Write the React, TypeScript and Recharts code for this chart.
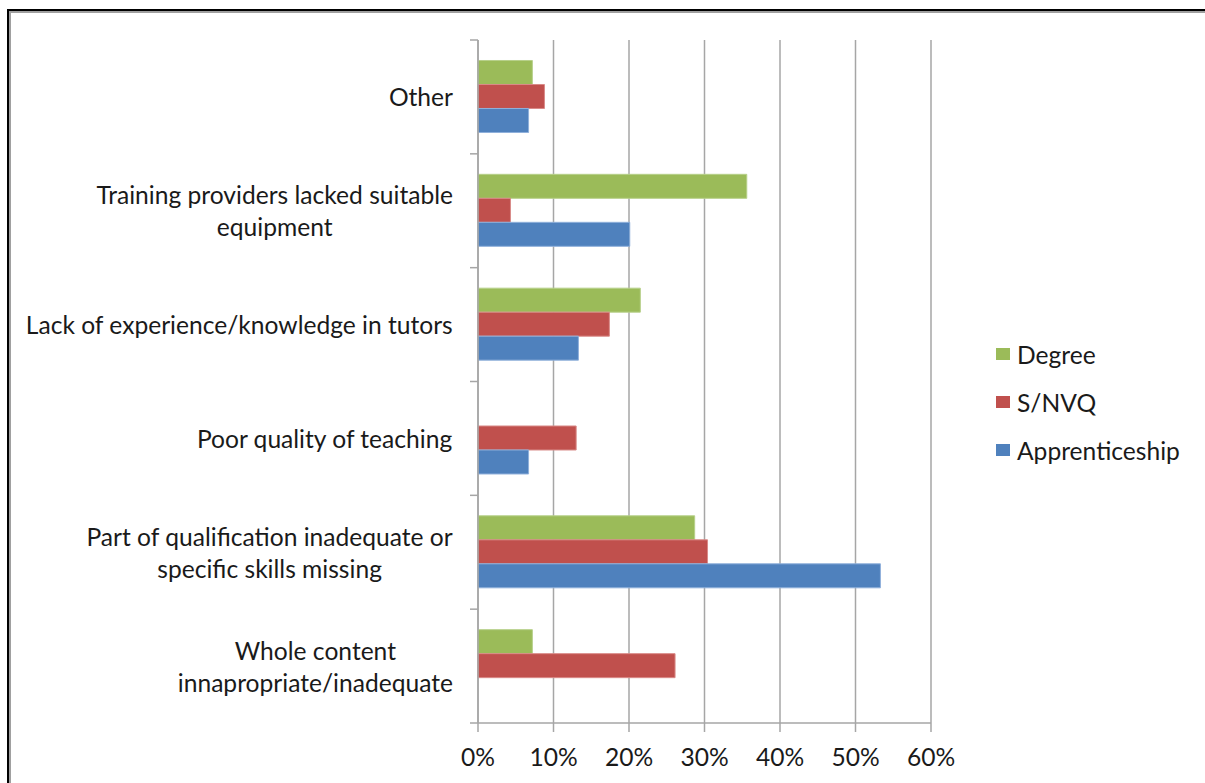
import React from 'react'
import { BarChart, Bar, XAxis, YAxis, CartesianGrid } from 'recharts'

// Categories top to bottom, each label split into its display lines
const categories = [
  'Other',
  'Training providers lacked suitable equipment',
  'Lack of experience/knowledge in tutors',
  'Poor quality of teaching',
  'Part of qualification inadequate or specific skills missing',
  'Whole content innapropriate/inadequate',
]

const labelLines: string[][] = [
  ['Other'],
  ['Training providers lacked suitable', 'equipment'],
  ['Lack of experience/knowledge in tutors'],
  ['Poor quality of teaching'],
  ['Part of qualification inadequate or', 'specific skills missing'],
  ['Whole content', 'innapropriate/inadequate'],
]

const degree = [0.072, 0.356, 0.215, 0, 0.287, 0.072]
const snvq = [0.088, 0.043, 0.174, 0.13, 0.304, 0.261]
const apprenticeship = [0.067, 0.201, 0.133, 0.067, 0.533, 0]

const xTicks = [0, 0.1, 0.2, 0.3, 0.4, 0.5, 0.6]

const series = [
  { key: 'degree', name: 'Degree', color: '#9BBB59', stroke: '#b7d08a' },
  { key: 'snvq', name: 'S/NVQ', color: '#C0504D', stroke: '#d98a88' },
  { key: 'apprenticeship', name: 'Apprenticeship', color: '#4F81BD', stroke: '#8fb0db' },
]

const W = 1205
const H = 783
const TOP = 40
const AXIS_X = 478
const X_AXIS_H = 60
const BAND = (H - TOP - X_AXIS_H) / categories.length
const FONT = 'Lato, "Open Sans", sans-serif'
const FONT_SIZE = 24.6
const GRID = '#a6a6a6'

const data = categories.map((name, i) => ({
  name,
  degree: degree[i],
  snvq: snvq[i],
  apprenticeship: apprenticeship[i],
}))

let ctx: CanvasRenderingContext2D | null = null
const measure = (s: string) => {
  if (!ctx) {
    ctx = document.createElement('canvas').getContext('2d')
  }
  if (!ctx) return s.length * 11
  ctx.font = `${FONT_SIZE}px Lato`
  return ctx.measureText(s).width
}

const CategoryTick = ({ y, payload, index }: any) => {
  const i = typeof index === 'number' ? index : categories.indexOf(payload.value)
  const lines = labelLines[i] || [payload.value]
  const maxW = Math.max(...lines.map(measure))
  const right = AXIS_X - 25
  const cx = right - maxW / 2
  const top = y - BAND / 2
  return (
    <g>
      <line x1={AXIS_X - 8} x2={AXIS_X} y1={top} y2={top} stroke={GRID} strokeWidth={1.5} />
      {i === categories.length - 1 && (
        <line x1={AXIS_X - 8} x2={AXIS_X} y1={y + BAND / 2} y2={y + BAND / 2} stroke={GRID} strokeWidth={1.5} />
      )}
      {lines.map((l, k) => (
        <text
          key={k}
          x={cx}
          y={y + (k - (lines.length - 1) / 2) * 32}
          textAnchor="middle"
          dominantBaseline="central"
          fontFamily={FONT}
          fontSize={FONT_SIZE}
          fill="#1a1a1a"
        >
          {l}
        </text>
      ))}
    </g>
  )
}

const LegendBox = () => (
  <div
    style={{
      position: 'absolute',
      left: 996,
      top: 330,
      fontFamily: FONT,
      fontSize: FONT_SIZE,
      color: '#1a1a1a',
    }}
  >
    {series.map((s) => (
      <div key={s.key} style={{ display: 'flex', alignItems: 'center', height: 48 }}>
        <div style={{ width: 14, height: 12, background: s.color, marginRight: 7 }} />
        <span>{s.name}</span>
      </div>
    ))}
  </div>
)

export default function App() {
  return (
    <div style={{ position: 'fixed', left: 0, top: 0, width: W, height: H, background: '#fff', overflow: 'hidden' }}>
      <div
        style={{
          position: 'absolute',
          left: 7,
          top: 9,
          width: W + 50,
          height: H + 50,
          borderTop: '2px solid #000',
          borderLeft: '2px solid #000',
        }}
      >
        <div style={{ width: '100%', height: '100%', borderTop: '2px solid #a0a0a0', borderLeft: '2px solid #a0a0a0' }} />
      </div>
      <div style={{ position: 'absolute', left: 0, top: 0 }}>
        <BarChart
          width={W}
          height={H}
          data={data}
          layout="vertical"
          margin={{ top: TOP, right: 274, left: 0, bottom: 0 }}
          barCategoryGap="18%"
          barGap={0}
        >
          <CartesianGrid horizontal={false} stroke={GRID} strokeWidth={1.5} />
          <XAxis
            type="number"
            domain={[0, 0.6]}
            ticks={xTicks}
            tickFormatter={(v: number) => `${Math.round(v * 100)}%`}
            height={X_AXIS_H}
            axisLine={{ stroke: GRID, strokeWidth: 1.5 }}
            tickLine={{ stroke: GRID, strokeWidth: 1.5 }}
            tickSize={9}
            tickMargin={17}
            tick={{ fontFamily: FONT, fontSize: FONT_SIZE, fill: '#1a1a1a' }}
            interval={0}
          />
          <YAxis
            type="category"
            dataKey="name"
            width={AXIS_X}
            axisLine={{ stroke: GRID, strokeWidth: 1.5 }}
            tickLine={false}
            tick={<CategoryTick />}
            interval={0}
          />
          {series.map((s) => (
            <Bar
              key={s.key}
              dataKey={s.key}
              name={s.name}
              fill={s.color}
              stroke={s.stroke}
              strokeWidth={1}
              isAnimationActive={false}
            />
          ))}
        </BarChart>
      </div>
      <LegendBox />
    </div>
  )
}
